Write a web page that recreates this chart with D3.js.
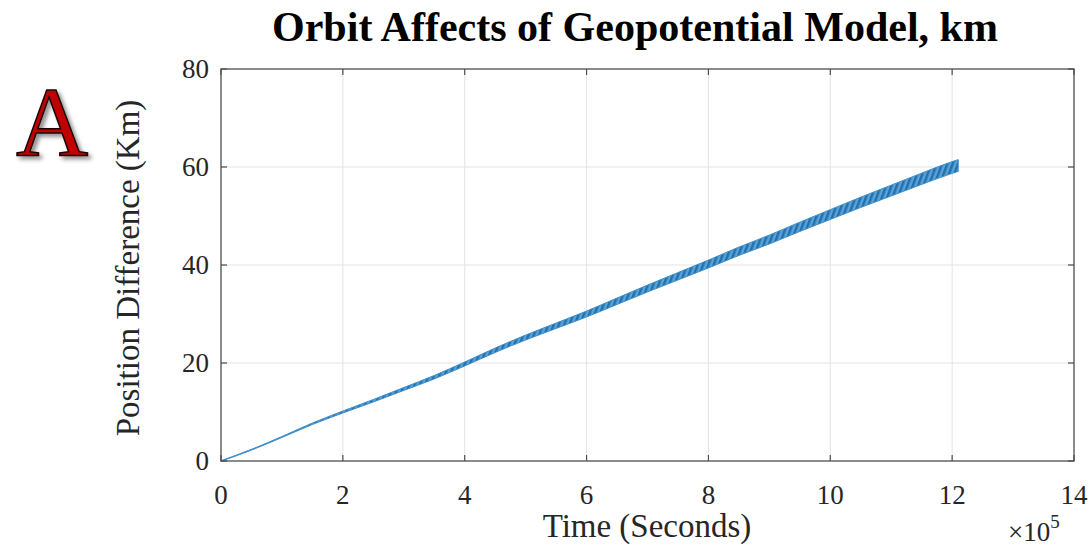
<!DOCTYPE html>
<html>
<head>
<meta charset="utf-8">
<script src="https://cdn.jsdelivr.net/npm/d3@7"></script>
<style>
  html, body { margin: 0; padding: 0; background: #fff; }
  svg { display: block; font-family: 'Liberation Serif', 'DejaVu Serif', serif; }
</style>
</head>
<body>
<svg id="chart" width="1092" height="547"></svg>
<script>
  // time in units of 1e5 s
  var times = [0, 0.5, 1, 1.5, 2, 2.5, 3, 3.5, 4, 4.5, 5, 5.5, 6, 6.5, 7, 7.5, 8, 8.5, 9, 9.5, 10, 10.5, 11, 11.5, 12, 12.1];
  // mean position difference (km)
  var meanKm = [0, 2.3, 4.9, 7.6, 10, 12.3, 14.7, 17.1, 19.8, 22.6, 25.2, 27.6, 30, 32.6, 35.2, 37.7, 40.2, 42.8, 45.2, 47.8, 50.3, 52.8, 55.2, 57.6, 59.9, 60.3];
  // half height of the oscillation band (km)
  var swingKm = [0.05, 0.08, 0.1, 0.15, 0.2, 0.25, 0.3, 0.35, 0.4, 0.45, 0.5, 0.55, 0.6, 0.65, 0.7, 0.75, 0.8, 0.85, 0.9, 0.95, 1.0, 1.05, 1.1, 1.15, 1.2, 1.2];
  var xTicks = [0, 2, 4, 6, 8, 10, 12, 14];
  var yTicks = [0, 20, 40, 60, 80];

  var margin = {left: 221, right: 18, top: 69, bottom: 86};
  var width = 1092, height = 547;

  var svg = d3.select('#chart');

  var x = d3.scaleLinear().domain([0, 14]).range([margin.left, width - margin.right]);
  var y = d3.scaleLinear().domain([0, 80]).range([height - margin.bottom, margin.top]);

  var axisColor = '#4d4d4d';

  // grid
  var grid = svg.append('g').attr('class', 'grid');
  grid.selectAll('.gx').data(xTicks.slice(1, -1)).enter().append('line')
      .attr('x1', function(d) { return x(d); })
      .attr('x2', function(d) { return x(d); })
      .attr('y1', y(0)).attr('y2', y(80))
      .style('stroke', '#e3e3e3').style('stroke-width', 1);
  grid.selectAll('.gy').data(yTicks.slice(1, -1)).enter().append('line')
      .attr('y1', function(d) { return y(d); })
      .attr('y2', function(d) { return y(d); })
      .attr('x1', x(0)).attr('x2', x(14))
      .style('stroke', '#e3e3e3').style('stroke-width', 1);

  // data band
  var rows = times.map(function(t, i) {
    return {t: t, lo: meanKm[i] - swingKm[i], hi: meanKm[i] + swingKm[i]};
  });

  var defs = svg.append('defs');
  var pat = defs.append('pattern')
      .attr('id', 'zig')
      .attr('patternUnits', 'userSpaceOnUse')
      .attr('width', 5).attr('height', 5)
      .attr('patternTransform', 'rotate(20)');
  pat.append('rect').attr('width', 5).attr('height', 5).style('fill', '#5aa3d8');
  pat.append('rect').attr('width', 2.5).attr('height', 5).style('fill', '#2270ad');

  var area = d3.area()
      .x(function(d) { return x(d.t); })
      .y0(function(d) { return y(d.lo); })
      .y1(function(d) { return y(d.hi); })
      .curve(d3.curveMonotoneX);

  svg.append('path')
      .datum(rows)
      .attr('d', area)
      .style('fill', 'url(#zig)')
      .style('stroke', '#3f8fca')
      .style('stroke-width', 1);

  // box
  svg.append('rect')
      .attr('x', x(0)).attr('y', y(80))
      .attr('width', x(14) - x(0)).attr('height', y(0) - y(80))
      .style('fill', 'none').style('stroke', axisColor).style('stroke-width', 1.3);

  // ticks (inside, on all four sides)
  var tl = 6;
  var ticks = svg.append('g').style('stroke', axisColor).style('stroke-width', 1.2);
  xTicks.forEach(function(d) {
    ticks.append('line').attr('x1', x(d)).attr('x2', x(d)).attr('y1', y(0)).attr('y2', y(0) - tl);
    ticks.append('line').attr('x1', x(d)).attr('x2', x(d)).attr('y1', y(80)).attr('y2', y(80) + tl);
  });
  yTicks.forEach(function(d) {
    ticks.append('line').attr('y1', y(d)).attr('y2', y(d)).attr('x1', x(0)).attr('x2', x(0) + tl);
    ticks.append('line').attr('y1', y(d)).attr('y2', y(d)).attr('x1', x(14)).attr('x2', x(14) - tl);
  });

  // tick labels
  svg.selectAll('.xl').data(xTicks).enter().append('text')
      .attr('x', function(d) { return x(d); })
      .attr('y', y(0) + 43)
      .attr('text-anchor', 'middle')
      .style('font-size', '27px').style('fill', '#262626')
      .text(function(d) { return d; });
  svg.selectAll('.yl').data(yTicks).enter().append('text')
      .attr('x', x(0) - 12)
      .attr('y', function(d) { return y(d) + 9; })
      .attr('text-anchor', 'end')
      .style('font-size', '27px').style('fill', '#262626')
      .text(function(d) { return d; });

  // exponent
  var ex = svg.append('text')
      .attr('x', 1008).attr('y', 541)
      .style('font-size', '27px').style('fill', '#262626');
  ex.append('tspan').text('\u00d710');
  ex.append('tspan').attr('dy', -13).style('font-size', '19px').text('5');

  // axis labels
  svg.append('text')
      .attr('x', 647).attr('y', 537)
      .attr('text-anchor', 'middle')
      .style('font-size', '33px').style('fill', '#262626')
      .text('Time (Seconds)');
  svg.append('text')
      .attr('transform', 'translate(139,268) rotate(-90)')
      .attr('text-anchor', 'middle')
      .style('font-size', '33px').style('fill', '#262626')
      .text('Position Difference (Km)');

  // title
  svg.append('text')
      .attr('x', 272).attr('y', 41)
      .attr('textLength', 726)
      .attr('lengthAdjust', 'spacingAndGlyphs')
      .style('font-size', '42px').style('font-weight', 'bold').style('fill', '#000')
      .text('Orbit Affects of Geopotential Model, km');

  // panel letter
  var shadow = defs.append('filter').attr('id', 'shadow')
      .attr('x', '-20%').attr('y', '-20%').attr('width', '150%').attr('height', '150%');
  shadow.append('feDropShadow')
      .attr('dx', 3).attr('dy', 3).attr('stdDeviation', 2)
      .attr('flood-color', '#000').attr('flood-opacity', 0.45);
  svg.append('text')
      .attr('x', 52).attr('y', 156)
      .attr('text-anchor', 'middle')
      .attr('filter', 'url(#shadow)')
      .style('font-size', '100px')
      .style('fill', '#c00000')
      .style('stroke', '#1a0000').style('stroke-width', 1.5)
      .text('A');
</script>
</body>
</html>
